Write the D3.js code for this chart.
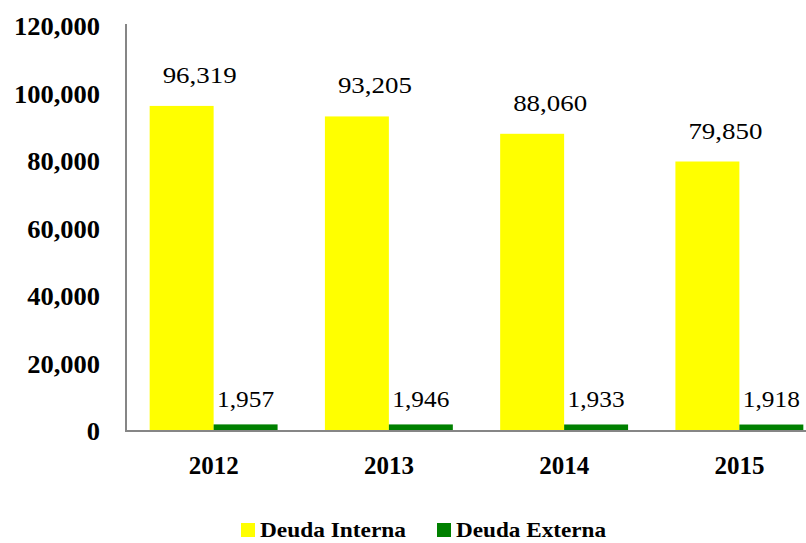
<!DOCTYPE html>
<html>
<head>
<meta charset="utf-8">
<script src="https://cdn.jsdelivr.net/npm/d3@7"></script>
<style>
  html, body { margin: 0; padding: 0; background: #fff; }
  svg { display: block; }
</style>
</head>
<body>
<svg id="chart" width="806" height="543"></svg>
<script>
const years = ["2012", "2013", "2014", "2015"];
const deudaInterna = [96319, 93205, 88060, 79850];
const deudaExterna = [1957, 1946, 1933, 1918];
const seriesNames = ["Deuda Interna", "Deuda Externa"];
const seriesColors = ["#FFFF00", "#008000"];
const yTicks = [0, 20000, 40000, 60000, 80000, 100000, 120000];

const svg = d3.select("#chart");
const font = "'Liberation Serif', 'Times New Roman', serif";
const fmt = d3.format(",");

const y = d3.scaleLinear().domain([0, 120000]).range([431, 26]);
const x0 = d3.scaleBand().domain(years).range([126, 827]).paddingInner(0.27).paddingOuter(0.135);
const x1 = d3.scaleBand().domain(seriesNames).range([0, x0.bandwidth()]).padding(0);

const seriesData = [deudaInterna, deudaExterna];

// bars
const groups = svg.append("g").selectAll("g").data(years).join("g")
  .attr("transform", d => `translate(${x0(d)},0)`);

groups.selectAll("rect")
  .data((d, i) => seriesNames.map((s, j) => ({ s, j, v: seriesData[j][i] })))
  .join("rect")
  .attr("x", d => x1(d.s))
  .attr("width", x1.bandwidth())
  .attr("y", d => y(d.v))
  .attr("height", d => y(0) - y(d.v))
  .attr("fill", d => seriesColors[d.j]);

// value labels
groups.selectAll("text.val")
  .data((d, i) => seriesNames.map((s, j) => ({ s, j, v: seriesData[j][i] })))
  .join("text")
  .attr("class", "val")
  .attr("x", d => x1(d.s) + x1.bandwidth() / 2 + (d.j === 0 ? 18 : 0))
  .attr("y", d => d.j === 0 ? y(d.v) - 23 : 407)
  .attr("text-anchor", "middle")
  .attr("font-family", font)
  .attr("font-size", 24)
  .attr("fill", "#000")
  .attr("textLength", d => d.j === 0 ? 74 : 57)
  .attr("lengthAdjust", "spacingAndGlyphs")
  .text(d => fmt(d.v));

// y axis
const yAxis = d3.axisLeft(y).tickValues(yTicks).tickSize(0).tickPadding(26).tickFormat(fmt);
const gy = svg.append("g").attr("transform", "translate(126,0)").call(yAxis);
gy.select(".domain").remove();
gy.selectAll("text")
  .attr("font-family", font)
  .attr("font-size", 25)
  .attr("font-weight", "bold")
  .attr("fill", "#000")
  .attr("dy", "0.34em")
  .each(function () {
    const w = this.getComputedTextLength();
    d3.select(this).attr("textLength", w * 1.06).attr("lengthAdjust", "spacingAndGlyphs");
  });

svg.append("line")
  .attr("x1", 126).attr("x2", 126).attr("y1", 24).attr("y2", y(0) + 1)
  .attr("stroke", "#868686").attr("stroke-width", 2);

// x axis
const xAxis = d3.axisBottom(x0).tickSize(0).tickPadding(30);
const gx = svg.append("g").attr("transform", `translate(0,${y(0)})`).call(xAxis);
gx.select(".domain").remove();
gx.selectAll("text")
  .attr("font-family", font)
  .attr("font-size", 25)
  .attr("font-weight", "bold")
  .attr("fill", "#000")
  .attr("dy", "0.5em");

svg.append("line")
  .attr("x1", 125).attr("x2", 806).attr("y1", y(0)).attr("y2", y(0))
  .attr("stroke", "#868686").attr("stroke-width", 2);

// legend
const legendItems = [
  { name: seriesNames[0], color: seriesColors[0], x: 241, w: 146 },
  { name: seriesNames[1], color: seriesColors[1], x: 437, w: 150 }
];
const lg = svg.append("g").selectAll("g").data(legendItems).join("g");
lg.append("rect")
  .attr("x", d => d.x).attr("y", 523).attr("width", 14).attr("height", 14)
  .attr("fill", d => d.color);
lg.append("text")
  .attr("x", d => d.x + 19).attr("y", 537)
  .attr("font-family", font)
  .attr("font-size", 22)
  .attr("font-weight", "bold")
  .attr("fill", "#000")
  .attr("textLength", d => d.w)
  .attr("lengthAdjust", "spacingAndGlyphs")
  .text(d => d.name);
</script>
</body>
</html>
